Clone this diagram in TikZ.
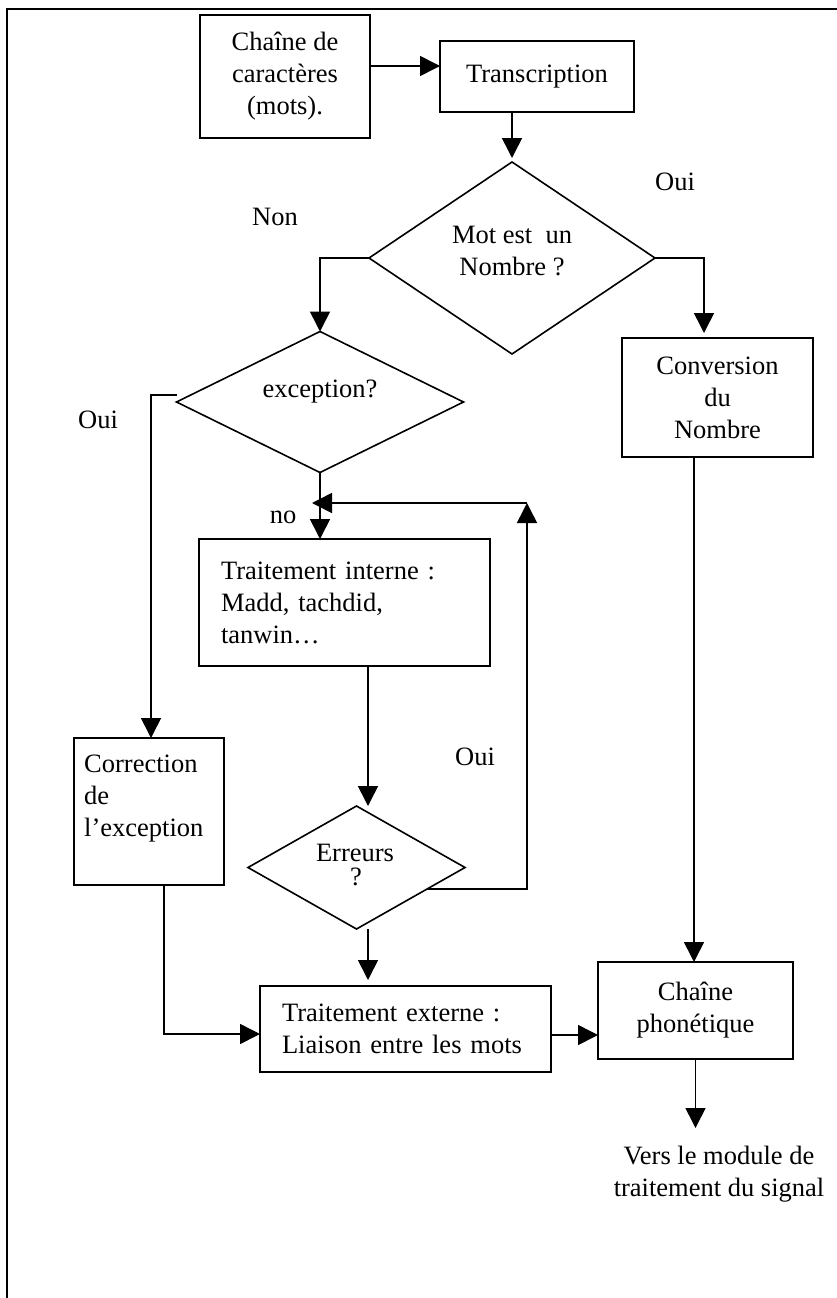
\documentclass[tikz,border=0pt]{standalone}
\usepackage{fontspec}
\setmainfont{Liberation Serif}
\usetikzlibrary{shapes.geometric,arrows.meta,calc}
\begin{document}
\begin{tikzpicture}[x=1pt,y=-1pt,
  font=\fontsize{26.5}{32}\selectfont,
  box/.style={draw,line width=2pt,rectangle,inner sep=0pt,outer sep=0pt,align=center},
  lbox/.style={draw,line width=2pt,rectangle,inner ysep=0pt,inner xsep=22pt,outer sep=0pt,align=left,text width=247pt,minimum width=291pt},
  dia/.style={draw,line width=1.6pt,diamond,inner sep=0pt,outer sep=0pt},
  lbl/.style={inner sep=0pt},
  conn/.style={line width=1.6pt},
  arr/.style={conn,-{Triangle[length=20pt,width=20pt]}},
]
\useasboundingbox (0,0) rectangle (837,1298);
% frame
\draw[line width=2pt] (7,1298) -- (7,9) -- (837,9);

% nodes
\node[box,minimum width=170pt,minimum height=123pt] (chaine) at (285,76.5) {Chaîne de\\caractères\\(mots).};
\node[box,minimum width=194pt,minimum height=71pt] (trans) at (537,76.5) {Transcription};
\node[dia,minimum width=286pt,minimum height=192pt] (d1) at (512,258) {};
\node[lbl,align=center] (d1t) at (512,251) {Mot est\ \ un\\Nombre ?};
\node[dia,minimum width=287pt,minimum height=141pt] (d2) at (320,402) {};
\node[lbl] (d2t) at (320,392) {exception?};
\node[box,minimum width=191pt,minimum height=119pt] (conv) at (717.5,397.5) {Conversion\\du\\Nombre};
\node[box,minimum width=150pt,minimum height=147pt] (corr) at (149,811.5) {};
\node[lbl,align=left,anchor=west] (corrt) at (84,799) {Correction\\de\\l’exception};
\node[lbox,minimum height=127pt] (tint) at (344.5,602.5) {Traitement interne :\\Madd, tachdid,\\tanwin…};
\node[dia,minimum width=217pt,minimum height=123pt] (err) at (356.5,867.5) {};
\node[lbl] (errt) at (355,853) {Erreurs};
\node[lbl] (errq) at (356,877) {?};
\node[lbox,minimum height=86pt] (ext) at (405.5,1029) {Traitement externe :\\Liaison entre les mots};
\node[box,minimum width=195pt,minimum height=97pt] (phon) at (695.5,1010.5) {Chaîne\\phonétique};
\node[lbl,align=center] (out) at (719,1174) {Vers le module de\\traitement du signal};

% labels
\node[lbl] (non) at (275,217) {Non};
\node[lbl] (oui1) at (675,182) {Oui};
\node[lbl] (oui2) at (98,420) {Oui};
\node[lbl] (no) at (283,517) {no};
\node[lbl] (oui3) at (475,757) {Oui};

% helper coordinates
\coordinate (lc) at (527,503);
\coordinate (errR) at ($(err.east)!0.35!(err.south)$);
\coordinate (ta) at ($(tint.south)+(23.5,0)$);
\coordinate (tb) at ($(err.south)+(11.5,0)$);
\coordinate (tc) at ($(corr.south)+(15,0)$);
\coordinate (td) at ($(conv.south)+(-23.5,0)$);
\coordinate (outc) at ($(phon.south)+(0,69)$);

% connectors
\draw[arr] ($(chaine.east)+(0,-10.5)$) -- ($(trans.west)+(0,-10.5)$);
\draw[arr,shorten >=4pt] (trans.south -| d1.north) -- (d1.north);
\draw[arr] (d1.west) -| (d2.north);
\draw[arr,shorten >=5pt] (d1.east) -| ($(conv.north)+(-13.5,0)$);
\draw[arr] ($(d2.west)+(0,-7)$) -| ($(corr.north)+(2,0)$);
\draw[arr] (d2.south) -- (d2.south |- tint.north);
\draw[arr] (ta) -- (ta |- err.north);
\draw[arr] (errR) -- (errR -| lc) -- (lc);
\draw[arr] (lc) -- ($(d2.south |- lc)+(-8,0)$);
\draw[arr,shorten >=6pt] (tb) -- (tb |- ext.north);
\draw[arr] (tc) |- ($(ext.west)+(0,5)$);
\draw[arr] ($(ext.east)+(0,6)$) -- ($(phon.west |- ext.east)+(0,6)$);
\draw[arr] (td) -- (td |- phon.north);
\draw[arr] (phon.south) -- (outc);
\end{tikzpicture}
\end{document}
